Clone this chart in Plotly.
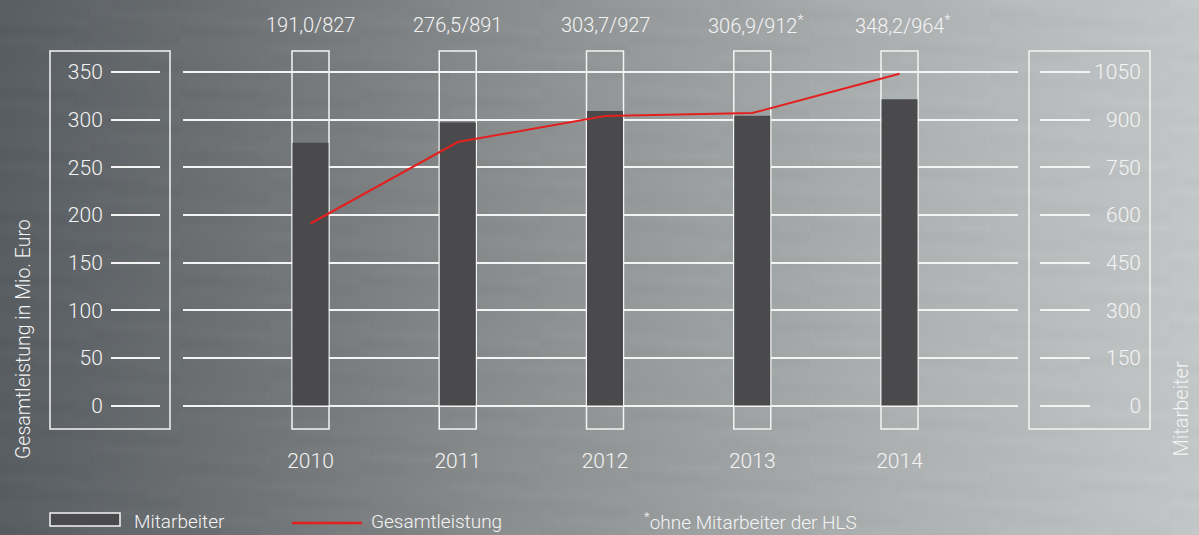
import base64
import struct
import zlib

import numpy as np
import plotly.graph_objects as go

# ---------------- data ----------------
years = [2010, 2011, 2012, 2013, 2014]
gesamtleistung = [191.0, 276.5, 303.7, 306.9, 348.2]   # Mio. Euro (left axis)
mitarbeiter = [827, 891, 927, 912, 964]                 # right axis
top_labels = ["191,0/827", "276,5/891", "303,7/927", "306,9/912<sup>*</sup>", "348,2/964<sup>*</sup>"]
left_ticks = [0, 50, 100, 150, 200, 250, 300, 350]
right_ticks = [0, 150, 300, 450, 600, 750, 900, 1050]

# ---------------- geometry helpers ----------------
W, H = 1199, 535
PT, PB = 45, 435            # plot area top / bottom (px)
X0PX, X1PX = 183, 1018      # x-axis domain (px)
YEAR0_PX, YEAR_STEP = 310.5, 147.25
Y0_PX, Y350_PX = 405.5, 72.0
ys = (Y0_PX - Y350_PX) / 350.0


def px_x(p):
    return p / W


def px_y(p):
    return (PB - p) / (PB - PT)


xr = [years[0] - (YEAR0_PX - X0PX) / YEAR_STEP, years[0] + (X1PX - YEAR0_PX) / YEAR_STEP]
yr_left = [-(PB - Y0_PX) / ys, 350 + (Y350_PX - PT) / ys]
yr_right = [v * 3 for v in yr_left]

FONT = "Roboto"
WHITE = "#f4f4f4"
BAR = "#4a4a4c"
RED = "#e3201f"

# ---------------- background (brushed-metal like gradient) ----------------
stops_x = np.array([0, 230, 550, 900, 1199], dtype=float)
stops_c = np.array([
    [0x59, 0x5e, 0x63],
    [0x6e, 0x72, 0x74],
    [0x8e, 0x92, 0x93],
    [0xae, 0xb1, 0xb2],
    [0xc4, 0xc7, 0xc8],
], dtype=float)
xs = np.arange(W, dtype=float)
row = np.stack([np.interp(xs, stops_x, stops_c[:, k]) for k in range(3)], axis=1)
hh = 60
img = np.repeat(row[None, :, :], hh, axis=0)
# subtle horizontal streaks (deterministic)
rr = np.arange(hh)[:, None]
cc = np.arange(W)[None, :]
streak = 3.0 * np.sin(rr * 2.7 + np.floor(cc / 90) * 1.3) * np.cos(rr * 0.9 + np.floor(cc / 37) * 0.7)
img = np.clip(img + streak[:, :, None], 0, 255).astype(np.uint8)


def png_bytes(arr):
    h, w, _ = arr.shape
    raw = b"".join(b"\x00" + arr[i].tobytes() for i in range(h))

    def chunk(t, d):
        return struct.pack(">I", len(d)) + t + d + struct.pack(">I", zlib.crc32(t + d) & 0xFFFFFFFF)

    return (b"\x89PNG\r\n\x1a\n" + chunk(b"IHDR", struct.pack(">IIBBBBB", w, h, 8, 2, 0, 0, 0))
            + chunk(b"IDAT", zlib.compress(raw, 9)) + chunk(b"IEND", b""))


bg_src = "data:image/png;base64," + base64.b64encode(png_bytes(img)).decode()

# ---------------- figure ----------------
fig = go.Figure()
# bars on the base axis "y" (right scale, Mitarbeiter)
fig.add_trace(go.Bar(
    x=years, y=mitarbeiter, yaxis="y", width=36 / YEAR_STEP,
    marker=dict(color=BAR, line=dict(width=0)), name="Mitarbeiter", showlegend=False,
))
# line on the overlaying axis "y2" (left scale, Gesamtleistung) so it is drawn on top
fig.add_trace(go.Scatter(
    x=years, y=gesamtleistung, yaxis="y2", mode="lines", line=dict(color=RED, width=2),
    name="Gesamtleistung", showlegend=False,
))

shapes = []
# outline boxes around each bar
half = 18.5 / YEAR_STEP
for yv in years:
    shapes.append(dict(type="rect", xref="x", yref="paper", x0=yv - half, x1=yv + half,
                       y0=px_y(429), y1=px_y(51), line=dict(color=WHITE, width=1.5), layer="below"))
# axis boxes
for a, b in [(50, 170), (1029, 1150)]:
    shapes.append(dict(type="rect", xref="paper", yref="paper", x0=px_x(a), x1=px_x(b),
                       y0=px_y(429), y1=px_y(51), line=dict(color=WHITE, width=1.5)))
# legend symbols
shapes.append(dict(type="rect", xref="paper", yref="paper", x0=px_x(50), x1=px_x(120),
                   y0=px_y(526), y1=px_y(513), fillcolor=BAR, line=dict(color=WHITE, width=1.5)))
shapes.append(dict(type="line", xref="paper", yref="paper", x0=px_x(292), x1=px_x(362),
                   y0=px_y(523), y1=px_y(523), line=dict(color=RED, width=2.5)))

annotations = []
for yv, t in zip(years, top_labels):
    annotations.append(dict(x=yv, xref="x", y=px_y(25), yref="paper", text=t, showarrow=False,
                            xanchor="center", yanchor="middle", xshift=3 if "*" in t else 0,
                            font=dict(family=FONT, size=20, color=WHITE, weight=300)))
annotations.append(dict(x=px_x(23), y=px_y(461), xref="paper", yref="paper", showarrow=False,
                        text="Gesamtleistung in Mio. Euro", textangle=-90, xanchor="center", yanchor="bottom",
                        font=dict(family=FONT, size=19.5, color=WHITE, weight=300)))
annotations.append(dict(x=px_x(1180), y=px_y(459), xref="paper", yref="paper", showarrow=False,
                        text="Mitarbeiter", textangle=-90, xanchor="center", yanchor="bottom",
                        font=dict(family=FONT, size=20, color=WHITE, weight=300)))
for xp, t in [(132, "Mitarbeiter"), (369, "Gesamtleistung"), (642, "<sup>*</sup>ohne Mitarbeiter der HLS")]:
    annotations.append(dict(x=px_x(xp), y=px_y(521), xref="paper", yref="paper", showarrow=False,
                            text=t, xanchor="left", yanchor="middle",
                            font=dict(family=FONT, size=19, color=WHITE, weight=300)))

FS = "\u2007"
right_text = [FS * (4 - len(str(v))) + str(v) for v in right_ticks]
tickfont = dict(family=FONT, size=21, color=WHITE, weight=300)

fig.update_layout(
    width=W, height=H,
    margin=dict(l=0, r=0, t=PT, b=H - PB, pad=0),
    paper_bgcolor="#8e9293", plot_bgcolor="rgba(0,0,0,0)",
    showlegend=False,
    images=[dict(source=bg_src, xref="paper", yref="paper", x=0, y=1 + PT / (PB - PT),
                 sizex=1, sizey=H / (PB - PT), sizing="stretch", xanchor="left", yanchor="top",
                 layer="below")],
    xaxis=dict(domain=[px_x(X0PX), px_x(X1PX)], range=xr, tickvals=years,
               ticktext=[str(v) for v in years], showgrid=False, zeroline=False, showline=False,
               ticks="outside", ticklen=7, tickcolor="rgba(0,0,0,0)", tickfont=tickfont),
    # right axis: Mitarbeiter (base axis, carries the gridlines)
    yaxis=dict(range=yr_right, anchor="free", position=px_x(1039), side="right",
               tickvals=right_ticks, ticktext=right_text,
               ticks="outside", ticklen=50, tickwidth=1.5, tickcolor=WHITE,
               showgrid=True, gridcolor=WHITE, gridwidth=1.5, zeroline=False, showline=False,
               tickfont=tickfont),
    # left axis: Gesamtleistung in Mio. Euro
    yaxis2=dict(range=yr_left, overlaying="y", anchor="free", position=px_x(160), side="left",
                tickvals=left_ticks,
                ticks="outside", ticklen=49, tickwidth=1.5, tickcolor=WHITE, ticklabelstandoff=4,
                showgrid=False, zeroline=False, showline=False, tickfont=tickfont),
    shapes=shapes, annotations=annotations,
)

fig.write_html(
    "out.html",
    config={"displayModeBar": False},
    post_script="document.body.style.margin='0';document.body.style.padding='0';"
                "document.body.style.overflow='hidden';",
)
